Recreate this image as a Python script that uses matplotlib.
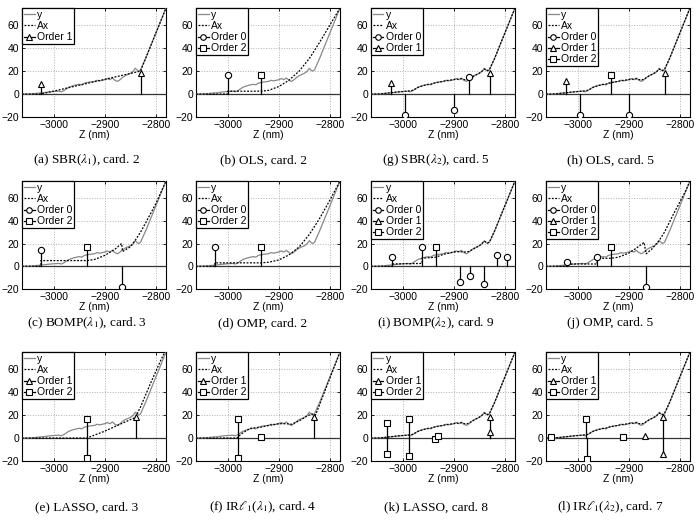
import matplotlib
matplotlib.use("Agg")
import matplotlib.pyplot as plt
from matplotlib.lines import Line2D

plt.rcParams['font.family'] = ['Liberation Sans', 'DejaVu Sans']
plt.rcParams['mathtext.fontset'] = 'stix'

# ---- measured signal y (common to all panels) ----
y_x = [-3062, -3050, -3040, -3030, -3020, -3010, -3000, -2990, -2985, -2980, -2975, -2970,
       -2960, -2950, -2945, -2940, -2930, -2920, -2915, -2910, -2900, -2895, -2890, -2885,
       -2880, -2875, -2870, -2865, -2860, -2855, -2850, -2845, -2840, -2837, -2834, -2830,
       -2820, -2810, -2800, -2790, -2780]
y_v = [0, 0, 0.3, 0.8, 1.2, 1.8, 2.2, 2.5, 2.0, 3.0, 4.5, 6.0,
       7.5, 8.5, 8.0, 9.5, 10.5, 11.0, 12.0, 11.5, 12.5, 13.5, 12.5, 14.0,
       12.0, 11.0, 12.5, 14.5, 16.0, 17.0, 18.0, 19.5, 22.5, 21.0, 20.0, 21.0,
       31.0, 42.0, 53.0, 64.0, 75.0]

# ---- approximations Ax ----
a_ax_x = [-3062, -3025, -2830, -2780]
a_ax_y = [0, 0, 20, 75]
b_ax_x = [-3062, -3000, -3000, -2935, -2920, -2900, -2880, -2860, -2840, -2820, -2800, -2780]
b_ax_y = [0, 0, 2.5, 2.5, 3.2, 6.5, 12.0, 20.0, 31.0, 45.0, 60.0, 75.0]
c_ax_x = [-3062, -3025, -3025, -2935, -2920, -2900, -2880, -2867, -2865, -2850, -2840, -2830, -2820, -2800, -2780]
c_ax_y = [0, 0, 5, 5, 6, 9.5, 15, 20, 13, 17, 23, 30, 38, 55, 75]
d_ax_x = [-3062, -3025, -3025, -2935, -2920, -2900, -2880, -2860, -2840, -2820, -2800, -2780]
d_ax_y = [0, 0, 3, 3, 3.5, 5.5, 10, 17, 28, 42, 58, 75]
e_ax_x = [-3062, -2935, -2900, -2870, -2840, -2830, -2810, -2790, -2780]
e_ax_y = [0, 0, 6, 12, 18, 27, 48, 68, 77]
f_ax_x = [-3062, -2982, -2975, -2965, -2955, -2945, -2935, -2920, -2900, -2885, -2875, -2860,
          -2845, -2835, -2828, -2820, -2800, -2780]
f_ax_y = [0, 0, 3, 6, 8.5, 9, 9.5, 11, 12.5, 12.5, 12, 15, 19, 21, 20, 29, 52, 75]
close_ax_y = [0, 0, 0.3, 0.8, 1.3, 1.8, 2.2, 2.6, 2.8, 3.3, 4.5, 5.8,
              7.3, 8.4, 8.6, 9.3, 10.3, 11.1, 11.7, 11.9, 12.6, 13.0, 12.9, 13.3,
              12.6, 12.3, 13.0, 14.4, 15.8, 17.0, 18.2, 19.8, 21.8, 21.2, 20.5, 21.5,
              31.0, 42.0, 53.0, 64.0, 75.0]
i_ax_x = [-3062, -3020, -3020, -2962, -2962, -2935, -2920, -2900, -2890, -2880, -2870, -2860,
          -2850, -2840, -2834, -2830, -2820, -2800, -2780]
i_ax_y = [0, 0, 2, 2.5, 7, 8, 10.5, 12.5, 13, 12.5, 13, 15.5, 18, 22, 20.5, 21.5, 31, 53, 75]
j_ax_x = [-3062, -3020, -3020, -2962, -2962, -2935, -2920, -2900, -2885, -2870, -2866, -2855,
          -2840, -2830, -2810, -2790, -2780]
j_ax_y = [0, 0, 2, 2, 7, 7, 8, 11.5, 16, 21, 11, 15, 23, 30, 48, 65, 75]

# ---- stems (position, amplitude, order) ----
a_st_x = [-3025, -2828]; a_st_h = [9, 18]; a_st_o = [1, 1]
b_st_x = [-3000, -2935]; b_st_h = [17, 17]; b_st_o = [0, 2]
c_st_x = [-3025, -2935, -2866]; c_st_h = [14, 17, -18]; c_st_o = [0, 2, 0]
d_st_x = [-3025, -2935]; d_st_h = [17, 17]; d_st_o = [0, 2]
e_st_x = [-2935, -2934, -2838]; e_st_h = [17, -17, 18]; e_st_o = [2, 2, 1]
f_st_x = [-2980, -2979, -2935, -2830]; f_st_h = [17, -17, 1, 18]; f_st_o = [2, 2, 2, 1]
g_st_x = [-3022, -2995, -2900, -2870, -2828]; g_st_h = [10, -18, -14, 15, 18]; g_st_o = [1, 0, 0, 0, 1]
h_st_x = [-3023, -2996, -2934, -2899, -2828]; h_st_h = [11, -18, 17, -18, 18]; h_st_o = [1, 0, 2, 0, 1]
i_st_x = [-3020, -2963, -2935, -2887, -2869, -2840, -2815, -2795]
i_st_h = [8, 17, 17, -14, -9, -16, 10, 8]; i_st_o = [0, 0, 2, 0, 0, 0, 0, 0]
j_st_x = [-3020, -2962, -2935, -2866]; j_st_h = [4, 8, 17, -18]; j_st_o = [0, 0, 2, 0]
k_st_x = [-3031, -3030, -2988, -2987, -2936, -2930, -2829, -2828]
k_st_h = [13, -14, 17, -16, -1, 1.5, 18, 5]; k_st_o = [2, 2, 2, 2, 2, 2, 1, 1]
l_st_x = [-3052, -2983, -2982, -2912, -2868, -2833, -2832]
l_st_h = [0.5, 16.5, -18, 0.5, 2, 18, -14]; l_st_o = [2, 2, 2, 2, 1, 1, 1]

captions = ["(a) SBR($\\lambda_1$), card. 2", "(b) OLS, card. 2",
            "(g) SBR($\\lambda_2$), card. 5", "(h) OLS, card. 5",
            "(c) BOMP($\\lambda_1$), card. 3", "(d) OMP, card. 2",
            "(i) BOMP($\\lambda_2$), card. 9", "(j) OMP, card. 5",
            "(e) LASSO, card. 3", "(f) IR$\\ell_1$($\\lambda_1$), card. 4",
            "(k) LASSO, card. 8", "(l) IR$\\ell_1$($\\lambda_2$), card. 7"]
legend_orders = [[1], [0, 2], [0, 1], [0, 1, 2],
                 [0, 2], [0, 2], [0, 1, 2], [0, 1, 2],
                 [1, 2], [1, 2], [1, 2], [1, 2]]

xticks = [-3000, -2900, -2800]
yticks = [-20, 0, 20, 40, 60]

panels = [
    (a_ax_x, a_ax_y, a_st_x, a_st_h, a_st_o),
    (b_ax_x, b_ax_y, b_st_x, b_st_h, b_st_o),
    (y_x, close_ax_y, g_st_x, g_st_h, g_st_o),
    (y_x, close_ax_y, h_st_x, h_st_h, h_st_o),
    (c_ax_x, c_ax_y, c_st_x, c_st_h, c_st_o),
    (d_ax_x, d_ax_y, d_st_x, d_st_h, d_st_o),
    (i_ax_x, i_ax_y, i_st_x, i_st_h, i_st_o),
    (j_ax_x, j_ax_y, j_st_x, j_st_h, j_st_o),
    (e_ax_x, e_ax_y, e_st_x, e_st_h, e_st_o),
    (f_ax_x, f_ax_y, f_st_x, f_st_h, f_st_o),
    (y_x, close_ax_y, k_st_x, k_st_h, k_st_o),
    (y_x, close_ax_y, l_st_x, l_st_h, l_st_o),
]

W, H = 697, 530
fig = plt.figure(figsize=(W / 100, H / 100), dpi=100)

col_left = [22, 196, 371, 546]
ax_w = 144
row_bottom = [117, 289, 461]
row_h = [109, 108, 109]
cap_x = [87, 263, 436, 610]
cap_y = [160, 323, 507]

markers = {0: 'o', 1: '^', 2: 's'}
fs = 7.5

for idx, (axx, axy, sx, sh, so) in enumerate(panels):
    r, c = divmod(idx, 4)
    ax = fig.add_axes([col_left[c] / W, 1 - row_bottom[r] / H, ax_w / W, row_h[r] / H])
    ax.set_xlim(-3062, -2780)
    ax.set_ylim(-20, 75)
    ax.grid(True, linestyle=':', color='#b0b0b0', linewidth=0.7)
    ax.set_axisbelow(True)
    ax.axhline(0, color='#333333', lw=0.9, zorder=2)
    ax.plot(y_x, y_v, color='#888888', lw=0.9, zorder=3)
    ax.plot(axx, axy, color='black', ls=(0, (1.5, 1.2)), lw=0.9, zorder=4)
    for x0, h0, o0 in zip(sx, sh, so):
        ax.plot([x0, x0], [0, h0], color='black', lw=0.9, zorder=5)
        ax.plot([x0], [h0], marker=markers[o0], ms=4.5, mfc='white', mec='black',
                mew=0.8, ls='none', zorder=6)
    ax.set_xticks(xticks)
    ax.set_yticks(yticks)
    ax.tick_params(direction='in', length=2.5, width=0.6, labelsize=fs, pad=2,
                   top=True, right=True)
    for s in ax.spines.values():
        s.set_linewidth(0.8)
    ax.set_xlabel("Z (nm)", fontsize=fs, labelpad=0)

    handles = [Line2D([], [], color='#888888', lw=0.9),
               Line2D([], [], color='black', ls=(0, (1.5, 1.2)), lw=0.9)]
    labels = ['y', 'Ax']
    for o in legend_orders[idx]:
        handles.append(Line2D([], [], color='black', lw=0.9, marker=markers[o], ms=4,
                              mfc='white', mec='black', mew=0.8))
        labels.append('Order %d' % o)
    leg = ax.legend(handles, labels, loc='upper left', fontsize=fs, frameon=True,
                    fancybox=False, edgecolor='black', framealpha=1,
                    borderaxespad=0, borderpad=0.2, labelspacing=0.1,
                    handlelength=1.0, handletextpad=0.2, numpoints=1)
    leg.get_frame().set_linewidth(0.9)
    leg.set_zorder(10)

    fig.text(cap_x[c] / W, 1 - cap_y[r] / H, captions[idx], ha='center', va='center',
             fontsize=9.5, family='Liberation Serif')

fig.savefig("out.png", dpi=100)
